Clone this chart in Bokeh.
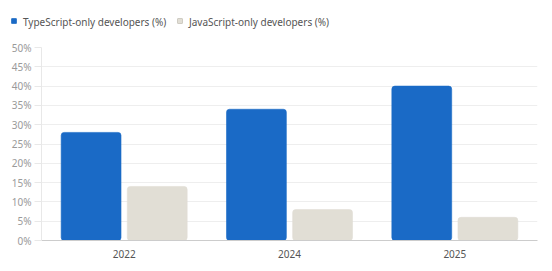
from bokeh.plotting import figure
from bokeh.layouts import column
from bokeh.models import ColumnDataSource, Div, SingleIntervalTicker, CustomJSTickFormatter
from bokeh.transform import dodge
from bokeh.embed import file_html
from bokeh.resources import INLINE

# Survey share of developers by language usage
years = ["2022", "2024", "2025"]
typescript_only = [28, 34, 40]
javascript_only = [14, 8, 6]

series_names = ["TypeScript-only developers (%)", "JavaScript-only developers (%)"]
ts_color = "#1a6ac6"
js_color = "#e1ded5"

src = ColumnDataSource(data=dict(year=years, ts=typescript_only, js=javascript_only))

FONT = "Noto Sans"
LEGEND_H = 33

# ---- legend strip on top ----
def legend_entry(left, color, border, label):
    return (
        f'<span style="position:absolute;left:{left}px;top:18px;width:6px;height:6px;'
        f'background:{color};border:1px solid {border};border-radius:1px;"></span>'
        f'<span style="position:absolute;left:{left + 12}px;top:15px;line-height:14px;'
        f'white-space:nowrap;">{label}</span>'
    )

legend_html = (
    f'<div style="position:relative;width:552px;height:{LEGEND_H}px;'
    f'font-family:\'{FONT}\';font-size:10px;color:#555555;">'
    + legend_entry(11, ts_color, "#3d80cc", series_names[0])
    + legend_entry(177, js_color, "#cfccc3", series_names[1])
    + "</div>"
)
lg = Div(text=legend_html, width=552, height=LEGEND_H, margin=0)

# ---- main chart ----
p = figure(
    x_range=years, y_range=(0, 50),
    width=552, height=271 - LEGEND_H,
    output_backend="svg", toolbar_location=None,
    min_border_left=41, min_border_right=15, min_border_top=47 - LEGEND_H, min_border_bottom=31,
)
p.outline_line_color = None

p.vbar(x=dodge("year", -0.2, range=p.x_range), top="ts", width=0.362, source=src,
       fill_color=ts_color, line_color=ts_color, line_alpha=0.6, border_radius=3)
p.vbar(x=dodge("year", 0.2, range=p.x_range), top="js", width=0.362, source=src,
       fill_color=js_color, line_color=js_color, line_alpha=0.6, border_radius=3)

# y axis: percent ticks every 5
p.yaxis.ticker = SingleIntervalTicker(interval=5)
p.yaxis.formatter = CustomJSTickFormatter(code="return tick + '%'")
p.yaxis.axis_line_color = "#e8e8e8"
p.yaxis.major_tick_line_color = "#e8e8e8"
p.yaxis.major_tick_out = 7
p.yaxis.major_tick_in = 0
p.yaxis.minor_tick_line_color = None
p.yaxis.major_label_text_color = "#9a9a9a"
p.yaxis.major_label_text_font = FONT
p.yaxis.major_label_text_font_size = "10px"
p.yaxis.major_label_standoff = 3

p.xaxis.axis_line_color = "#cccccc"
p.xaxis.major_tick_line_color = None
p.xaxis.minor_tick_line_color = None
p.xaxis.major_label_text_color = "#555555"
p.xaxis.major_label_text_font = FONT
p.xaxis.major_label_text_font_size = "10px"
p.xaxis.major_label_standoff = 3

p.xgrid.grid_line_color = None
p.ygrid.grid_line_color = "#eeeeee"

open("out.html", "w").write(file_html(column(lg, p, spacing=0), INLINE))
